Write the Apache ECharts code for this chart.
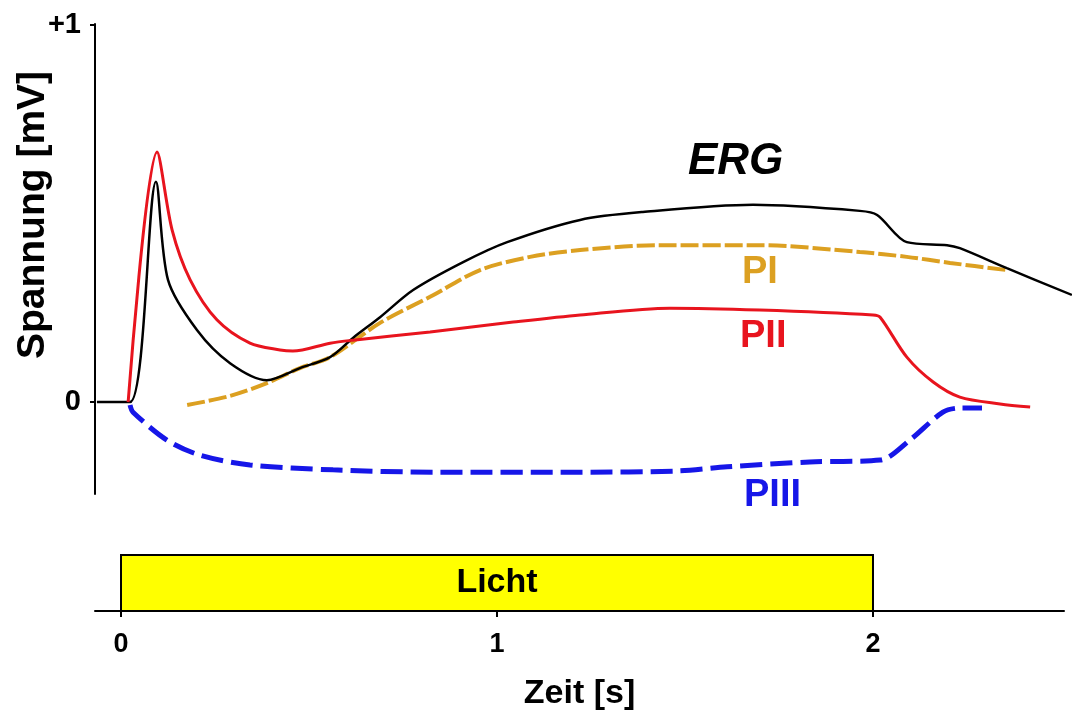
<!DOCTYPE html>
<html>
<head>
<meta charset="utf-8">
<script src="https://cdn.jsdelivr.net/npm/echarts@6/dist/echarts.min.js"></script>
<style>
  html, body { margin: 0; padding: 0; background: #fff; }
  #chart { width: 1072px; height: 713px; }
</style>
</head>
<body>
<div id="chart"></div>
<script>
// time [s] / voltage [mV]
const ergT = [-0.064, 0.024, 0.093, 0.125, 0.202, 0.29, 0.388, 0.476, 0.556, 0.617, 0.689, 0.777, 0.91, 1.027, 1.221, 1.388, 1.681, 1.965, 2.011, 2.09, 2.197, 2.231, 2.356, 2.529]
const ergV = [0, 0, 0.584, 0.324, 0.191, 0.103, 0.058, 0.09, 0.119, 0.17, 0.225, 0.297, 0.371, 0.424, 0.483, 0.504, 0.523, 0.507, 0.496, 0.424, 0.416, 0.408, 0.355, 0.284]

const p1T = [0.176, 0.29, 0.388, 0.476, 0.556, 0.689, 0.822, 0.955, 1.088, 1.221, 1.434, 1.699, 1.965, 2.09, 2.205, 2.356]
const p1V = [-0.008, 0.016, 0.05, 0.09, 0.119, 0.21, 0.279, 0.35, 0.385, 0.403, 0.416, 0.416, 0.398, 0.385, 0.369, 0.35]

const p2T = [0.019, 0.096, 0.136, 0.184, 0.255, 0.343, 0.423, 0.457, 0.556, 0.617, 0.822, 1.043, 1.221, 1.46, 1.699, 2.0, 2.019, 2.09, 2.16, 2.231, 2.338, 2.418]
const p2V = [0, 0.663, 0.456, 0.324, 0.218, 0.156, 0.138, 0.135, 0.156, 0.164, 0.186, 0.212, 0.231, 0.249, 0.244, 0.231, 0.225, 0.119, 0.053, 0.013, -0.005, -0.013]

const p3T = [0.024, 0.032, 0.122, 0.21, 0.343, 0.564, 0.83, 1.221, 1.479, 1.612, 1.832, 2.019, 2.098, 2.186, 2.231, 2.29]
const p3V = [-0.008, -0.027, -0.101, -0.141, -0.167, -0.18, -0.186, -0.186, -0.183, -0.172, -0.159, -0.154, -0.101, -0.027, -0.016, -0.016]

const lightOn = [[0, 2]]
const xTicks = [0, 1, 2]
const yTicks = [0, 1]

const zip = (t, v) => t.map((x, i) => [x, v[i]])
const font = 'Liberation Sans, Arial, sans-serif'

const chart = echarts.init(document.getElementById('chart'), null, { renderer: 'canvas' })

chart.setOption({
  animation: false,
  backgroundColor: '#fff',
  grid: [
    { left: 95, top: 24, width: 977, height: 470, outerBoundsMode: 'none', containLabel: false },
    { left: 95, top: 555, width: 969, height: 56, outerBoundsMode: 'none', containLabel: false }
  ],
  xAxis: [
    { type: 'value', gridIndex: 0, min: -0.06915, max: 2.5293, show: false },
    {
      type: 'value', gridIndex: 1, min: -0.06915, max: 2.508,
      splitLine: { show: false },
      axisLine: { onZero: false, lineStyle: { color: '#000', width: 2 } },
      axisTick: { customValues: xTicks, length: 6, lineStyle: { color: '#000', width: 2 } },
      axisLabel: {
        customValues: xTicks, margin: 20, color: '#000',
        fontFamily: font, fontWeight: 'bold', fontSize: 27
      },
      name: 'Zeit [s]', nameLocation: 'middle', nameGap: 66, nameMoveOverlap: false,
      nameTextStyle: { color: '#000', fontFamily: font, fontWeight: 'bold', fontSize: 34 }
    }
  ],
  yAxis: [
    {
      type: 'value', gridIndex: 0, min: -0.244, max: 1.0027,
      splitLine: { show: false },
      axisLine: { onZero: false, lineStyle: { color: '#000', width: 2 } },
      axisTick: { customValues: yTicks, length: 5, lineStyle: { color: '#000', width: 2 } },
      axisLabel: {
        customValues: yTicks, margin: 14, color: '#000',
        fontFamily: font, fontWeight: 'bold', fontSize: 29,
        formatter: v => (v === 1 ? '+1' : String(v))
      },
      name: 'Spannung [mV]', nameLocation: 'middle', nameGap: 42, nameRotate: 90, nameMoveOverlap: false,
      nameTextStyle: { color: '#000', fontFamily: font, fontWeight: 'bold', fontSize: 39, padding: [0, 0, 0, 88] }
    },
    { type: 'value', gridIndex: 1, min: 0, max: 1, show: false }
  ],
  series: [
    {
      type: 'custom', xAxisIndex: 1, yAxisIndex: 1, data: lightOn,
      renderItem: (params, api) => {
        const a = api.coord([api.value(0), 0])
        const b = api.coord([api.value(1), 1])
        return {
          type: 'rect',
          shape: { x: a[0], y: b[1], width: b[0] - a[0], height: a[1] - b[1] },
          style: { fill: '#ffff00', stroke: '#000', lineWidth: 2 },
          textContent: {
            style: { text: 'Licht', fill: '#000', font: 'bold 34px ' + font }
          },
          textConfig: { position: 'inside' }
        }
      }
    },
    {
      name: 'PIII', type: 'line', data: zip(p3T, p3V), smooth: 0.3, symbol: 'none',
      lineStyle: { color: '#1616e8', width: 5, type: [22, 8] }
    },
    {
      name: 'PI', type: 'line', data: zip(p1T, p1V), smooth: 0.3, symbol: 'none',
      lineStyle: { color: '#dca021', width: 4, type: [18, 4] }
    },
    {
      name: 'ERG', type: 'line', data: zip(ergT, ergV), smooth: 0.3, symbol: 'none',
      lineStyle: { color: '#000', width: 2.5 }
    },
    {
      name: 'PII', type: 'line', data: zip(p2T, p2V), smooth: 0.3, symbol: 'none',
      lineStyle: { color: '#e8141e', width: 3 }
    }
  ],
  graphic: [
    { type: 'text', left: 688, top: 140, style: { text: 'ERG', fill: '#000', font: 'italic bold 44px ' + font } },
    { type: 'text', left: 742, top: 254, style: { text: 'PI', fill: '#dca021', font: 'bold 38px ' + font } },
    { type: 'text', left: 740, top: 318, style: { text: 'PII', fill: '#e8141e', font: 'bold 38px ' + font } },
    { type: 'text', left: 744, top: 477, style: { text: 'PIII', fill: '#1616e8', font: 'bold 38px ' + font } }
  ]
})
</script>
</body>
</html>
